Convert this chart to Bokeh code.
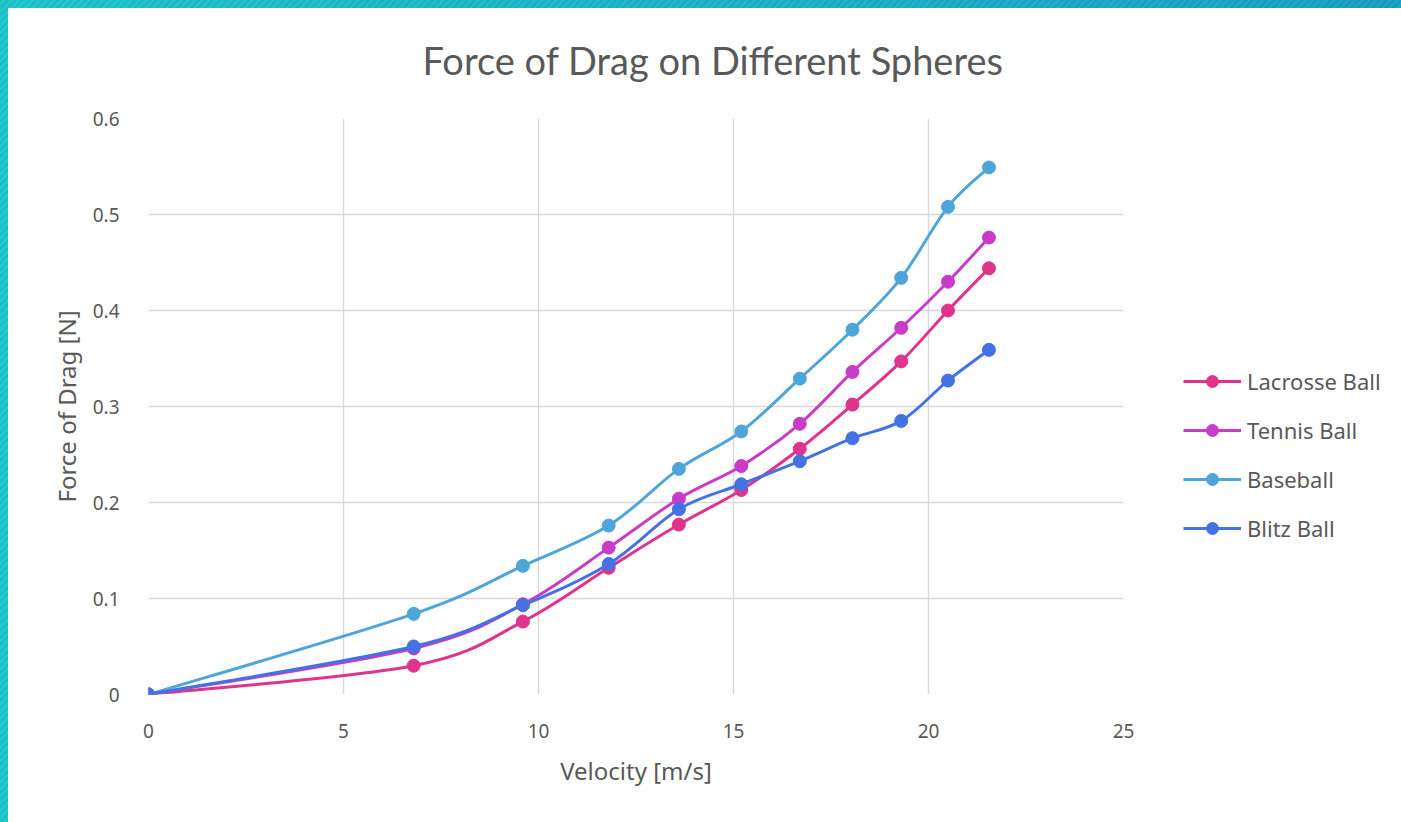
from bokeh.plotting import figure
from bokeh.layouts import column, row
from bokeh.models import (Legend, LegendItem, FixedTicker, ColumnDataSource,
                          Range1d, Title)
from bokeh.embed import file_html
from bokeh.resources import INLINE

# Measured drag force [N] for each ball at the tested velocities [m/s]
velocity = [0, 6.8, 9.6, 11.8, 13.6, 15.2, 16.7, 18.05, 19.3, 20.5, 21.55]
lacrosse = [0, 0.030, 0.076, 0.132, 0.177, 0.213, 0.256, 0.302, 0.347, 0.400, 0.444]
tennis = [0, 0.048, 0.094, 0.153, 0.204, 0.238, 0.282, 0.336, 0.382, 0.430, 0.476]
baseball = [0, 0.084, 0.134, 0.176, 0.235, 0.274, 0.329, 0.380, 0.434, 0.508, 0.549]
blitz = [0, 0.050, 0.093, 0.136, 0.193, 0.219, 0.243, 0.267, 0.285, 0.327, 0.359]

series_names = ["Lacrosse Ball", "Tennis Ball", "Baseball", "Blitz Ball"]
series_values = [lacrosse, tennis, baseball, blitz]
series_colors = ["#E0338C", "#C83CC8", "#4EA5DA", "#4472E2"]

x_ticks = [0, 5, 10, 15, 20, 25]
y_ticks = [0, 0.1, 0.2, 0.3, 0.4, 0.5, 0.6]
y_tick_labels = ["0", "0.1", "0.2", "0.3", "0.4", "0.5", "0.6"]

TEXT = "#595959"
GRID = "#D9D9D9"
FONT = "Noto Sans"


def smooth_segments(xs, ys):
    """Catmull-Rom style cubic Bezier segments through the given points."""
    n = len(xs)
    seg = dict(x0=[], y0=[], x1=[], y1=[], cx0=[], cy0=[], cx1=[], cy1=[])
    for i in range(n - 1):
        xp, yp = (xs[i - 1], ys[i - 1]) if i > 0 else (xs[i], ys[i])
        xn, yn = (xs[i + 2], ys[i + 2]) if i + 2 < n else (xs[i + 1], ys[i + 1])
        seg["x0"].append(xs[i]); seg["y0"].append(ys[i])
        seg["x1"].append(xs[i + 1]); seg["y1"].append(ys[i + 1])
        seg["cx0"].append(xs[i] + (xs[i + 1] - xp) / 6)
        seg["cy0"].append(ys[i] + (ys[i + 1] - yp) / 6)
        seg["cx1"].append(xs[i + 1] - (xn - xs[i]) / 6)
        seg["cy1"].append(ys[i + 1] - (yn - ys[i]) / 6)
    return seg


# ---- main chart -----------------------------------------------------------
p = figure(width=1135, height=814, x_range=(0, 25), y_range=(0, 0.6),
           output_backend="svg", toolbar_location=None,
           min_border_left=140, min_border_right=20,
           min_border_top=110, min_border_bottom=128,
           styles={"background-color": "white"})
p.outline_line_color = None
p.background_fill_color = "white"
p.border_fill_color = "white"
p.title.text = ""
p.title.standoff = 0

# gap between the plot area and the chart title
p.add_layout(Title(text=" ", text_font_size="2px", standoff=31), "above")
p.add_layout(Title(text="Force of Drag on Different Spheres", align="left",
                   offset=274, vertical_align="middle", standoff=0,
                   text_font="Lato", text_font_size="38px",
                   text_font_style="normal", text_color=TEXT), "above")

for ax in (p.xaxis[0], p.yaxis[0]):
    ax.axis_line_color = None
    ax.major_tick_line_color = None
    ax.minor_tick_line_color = None
    ax.major_label_text_color = TEXT
    ax.major_label_text_font = FONT
    ax.major_label_text_font_size = "19px"
    ax.axis_label_text_color = TEXT
    ax.axis_label_text_font = FONT
    ax.axis_label_text_font_size = "24px"
    ax.axis_label_text_font_style = "normal"

p.xaxis.ticker = FixedTicker(ticks=x_ticks)
p.yaxis.ticker = FixedTicker(ticks=y_ticks)
p.yaxis.major_label_overrides = dict(zip(y_ticks, y_tick_labels))
p.xaxis.major_label_standoff = 23
p.yaxis.major_label_standoff = 23
p.xaxis.axis_label = "Velocity [m/s]"
p.yaxis.axis_label = "Force of Drag [N]"
p.xaxis.axis_label_standoff = 13
p.yaxis.axis_label_standoff = 7

p.xgrid.grid_line_color = GRID
p.ygrid.grid_line_color = GRID
p.xgrid.grid_line_width = 1.5
p.ygrid.grid_line_width = 1.5

for vals, color in zip(series_values, series_colors):
    seg = ColumnDataSource(smooth_segments(velocity, vals))
    p.bezier(x0="x0", y0="y0", x1="x1", y1="y1", cx0="cx0", cy0="cy0",
             cx1="cx1", cy1="cy1", source=seg, line_color=color, line_width=3)
    p.scatter(velocity, vals, size=13, fill_color=color, line_color=color)

# ---- legend strip to the right of the chart -------------------------------
q = figure(width=258, height=814, x_range=Range1d(100, 101),
           y_range=Range1d(100, 101), x_axis_type=None, y_axis_type=None,
           output_backend="svg", toolbar_location=None,
           min_border=0, styles={"background-color": "white"})
q.outline_line_color = None
q.grid.visible = False
q.background_fill_color = "white"
q.border_fill_color = "white"

items = []
for name, vals, color in zip(series_names, series_values, series_colors):
    ln = q.line(velocity, vals, line_color=color, line_width=3)
    dots = q.scatter(velocity, vals, size=13, fill_color=color, line_color=color)
    items.append(LegendItem(label=name, renderers=[ln, dots]))

legend = Legend(items=items, location=(40, 151), orientation="vertical",
                glyph_width=58, glyph_height=30, label_height=30, spacing=19,
                label_standoff=6, padding=0, margin=0,
                label_text_font=FONT, label_text_font_size="22px",
                label_text_color=TEXT, border_line_color=None,
                background_fill_alpha=0)
q.add_layout(legend, "center")

# teal striped page frame along the top and left edges
page = column(row(p, q, spacing=0), styles={
    "padding-top": "8px",
    "padding-left": "8px",
    "background": ("repeating-linear-gradient(-45deg, rgba(0,0,0,0.07) 0px, "
                   "rgba(0,0,0,0.07) 2px, rgba(0,0,0,0) 2px, rgba(0,0,0,0) 5px), "
                   "linear-gradient(90deg, #22C8CF, #1AA4C8)"),
})

open("out.html", "w").write(file_html(page, INLINE))
